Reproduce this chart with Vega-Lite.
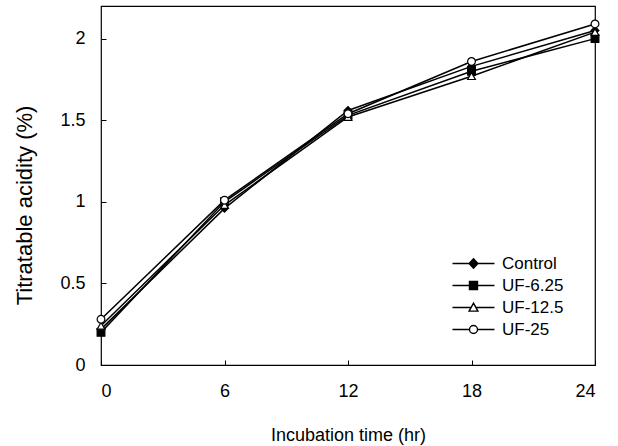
{
  "$schema": "https://vega.github.io/schema/vega-lite/v6.json",
  "autosize": "none",
  "width": 494,
  "height": 359,
  "padding": {"left": 101, "top": 6, "right": 23, "bottom": 81},
  "background": "white",
  "config": {
    "font": "Liberation Sans",
    "view": {"stroke": "black", "strokeWidth": 1.2},
    "axis": {
      "domain": false,
      "grid": false,
      "offset": -5,
      "tickColor": "black",
      "tickSize": 5,
      "tickWidth": 1,
      "labelColor": "black",
      "labelFontSize": 18,
      "labelFont": "Liberation Sans",
      "titleColor": "black",
      "titleFontSize": 18,
      "titleFontWeight": "normal",
      "titleFont": "Liberation Sans"
    },
    "legend": {
      "orient": "none",
      "legendX": 364,
      "legendY": 249,
      "padding": 0,
      "symbolSize": 64,
      "symbolStrokeWidth": 1.4,
      "symbolStrokeColor": "black",
      "symbolOpacity": 1,
      "labelOffset": 20,
      "labelFontSize": 17,
      "labelColor": "black",
      "labelFont": "Liberation Sans",
      "rowPadding": 4
    }
  },
  "data": {
    "values": [
      {"time": 0, "acidity": 0.22, "series": "Control"},
      {"time": 6, "acidity": 0.96, "series": "Control"},
      {"time": 12, "acidity": 1.56, "series": "Control"},
      {"time": 18, "acidity": 1.83, "series": "Control"},
      {"time": 24, "acidity": 2.05, "series": "Control"},
      {"time": 0, "acidity": 0.20, "series": "UF-6.25"},
      {"time": 6, "acidity": 1.00, "series": "UF-6.25"},
      {"time": 12, "acidity": 1.53, "series": "UF-6.25"},
      {"time": 18, "acidity": 1.80, "series": "UF-6.25"},
      {"time": 24, "acidity": 2.00, "series": "UF-6.25"},
      {"time": 0, "acidity": 0.24, "series": "UF-12.5"},
      {"time": 6, "acidity": 0.98, "series": "UF-12.5"},
      {"time": 12, "acidity": 1.52, "series": "UF-12.5"},
      {"time": 18, "acidity": 1.77, "series": "UF-12.5"},
      {"time": 24, "acidity": 2.04, "series": "UF-12.5"},
      {"time": 0, "acidity": 0.28, "series": "UF-25"},
      {"time": 6, "acidity": 1.01, "series": "UF-25"},
      {"time": 12, "acidity": 1.54, "series": "UF-25"},
      {"time": 18, "acidity": 1.86, "series": "UF-25"},
      {"time": 24, "acidity": 2.09, "series": "UF-25"}
    ]
  },
  "encoding": {
    "x": {
      "field": "time", "type": "quantitative",
      "scale": {"domain": [0, 24], "nice": false},
      "axis": {"values": [0, 6, 12, 18, 24], "title": "Incubation time (hr)", "labelPadding": 17, "titlePadding": 26}
    },
    "y": {
      "field": "acidity", "type": "quantitative",
      "scale": {"domain": [0, 2.2], "nice": false},
      "axis": {"values": [0, 0.5, 1, 1.5, 2], "format": ".1~f", "title": "Titratable acidity (%)", "titleFontSize": 22, "titleY": 199, "labelPadding": 16, "titlePadding": 23}
    }
  },
  "layer": [
    {
      "mark": {"type": "line", "color": "black", "strokeWidth": 1.5},
      "encoding": {"detail": {"field": "series"}}
    },
    {
      "mark": {"type": "point", "filled": true, "size": 60, "stroke": "black", "strokeWidth": 1.2, "opacity": 1},
      "encoding": {
        "shape": {
          "field": "series", "type": "nominal",
          "scale": {"domain": ["Control", "UF-6.25", "UF-12.5", "UF-25"], "range": ["diamond", "square", "triangle-up", "circle"]},
          "legend": null
        },
        "fill": {
          "field": "series", "type": "nominal",
          "scale": {"domain": ["Control", "UF-6.25", "UF-12.5", "UF-25"], "range": ["black", "black", "white", "white"]},
          "legend": null
        }
      }
    },
    {
      "transform": [{"filter": "false"}],
      "mark": {"type": "point", "filled": true, "size": 64, "strokeWidth": 1.4, "opacity": 1},
      "encoding": {
        "shape": {
          "field": "series", "type": "nominal",
          "scale": {"domain": ["Control", "UF-6.25", "UF-12.5", "UF-25"], "range": ["M-5.25,0H5.25M0,-1.2L1.1,0L0,1.2L-1.1,0Z", "M-5.25,0H5.25M-1,-1H1V1H-1Z", "M-5.25,0H-0.6M0.6,0H5.25M0,-1.1L1.1,0.9L-1.1,0.9Z", "M-5.25,0H-1M1,0H5.25M1,0A1,1 0 1,1 -1,0A1,1 0 1,1 1,0Z"]},
          "legend": {"title": null}
        },
        "fill": {
          "field": "series", "type": "nominal",
          "scale": {"domain": ["Control", "UF-6.25", "UF-12.5", "UF-25"], "range": ["black", "black", "white", "white"]},
          "legend": {"title": null}
        },
        "stroke": {
          "field": "series", "type": "nominal",
          "scale": {"domain": ["Control", "UF-6.25", "UF-12.5", "UF-25"], "range": ["black", "black", "black", "black"]},
          "legend": {"title": null}
        }
      }
    }
  ],
  "resolve": {"scale": {"shape": "independent", "fill": "independent", "stroke": "independent"}}
}
